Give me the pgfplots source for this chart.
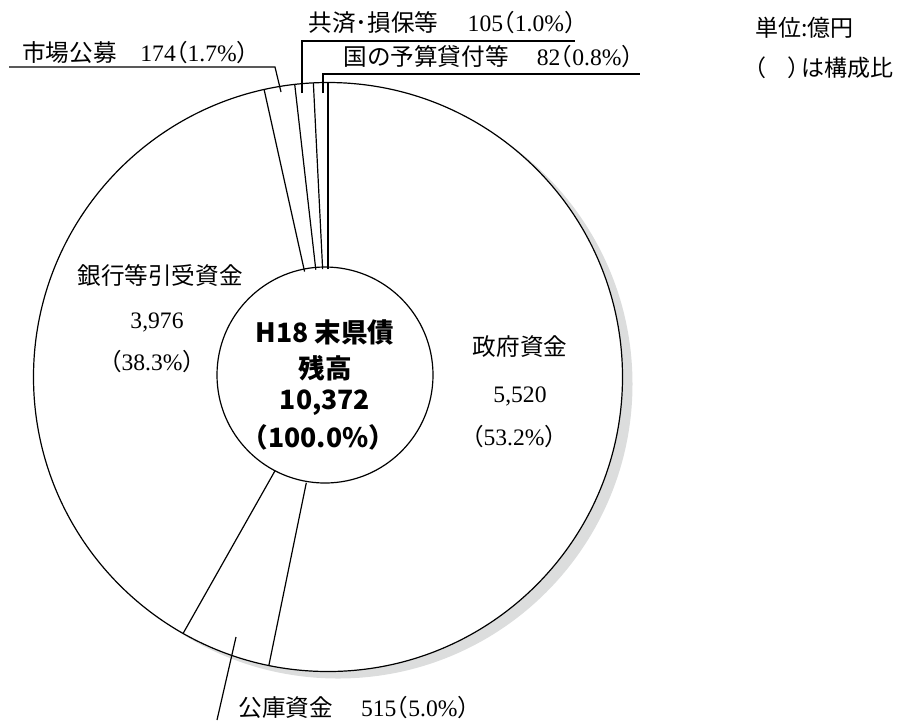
\documentclass[border=0pt]{standalone}
\usepackage{pgfplots}
\pgfplotsset{compat=1.18}
\usepackage{fontspec}
\setmainfont{Liberation Serif}
\newfontfamily\jp{Noto Sans CJK JP}
\newcommand{\J}[1]{{\jp #1}}
\newcommand{\lp}{{\jp\hspace{-0.5em}（}}
\newcommand{\rp}{{\jp ）\hspace{-0.5em}}}
\definecolor{shadowgray}{HTML}{DCDDDD}
\begin{document}
\begin{tikzpicture}
\useasboundingbox (0,0) rectangle (450pt,-360pt);
% donut: center at pixel (328,377); 1 px = 0.5pt
\begin{axis}[at={(4pt,-348.5pt)}, anchor=south west,
  x=0.5pt, y=0.5pt, xmin=-320, xmax=320, ymin=-320, ymax=320,
  hide axis, clip=false]
\fill[shadowgray] (axis cs:10,-7) circle[radius=294.5];
\draw[fill=white, line width=0.6pt] (axis cs:0,0) circle[radius=294.5];
\draw[fill=white, line width=0.6pt] (axis cs:-3,2) circle[radius=108];
% slice boundaries (polar angle, radius); values 5520, 515, 3976, 174, 105, 82 of 10372
\addplot[data cs=polar, black, line width=0.6pt] coordinates {(90,108) (90,294.5)};
\addplot[data cs=polar, black, line width=0.6pt] coordinates {(258.41,108) (258.41,294.5)};
\addplot[data cs=polar, black, line width=0.6pt] coordinates {(240.53,108) (240.53,294.5)};
\addplot[data cs=polar, black, line width=0.6pt] coordinates {(102.53,108) (102.53,294.5)};
\addplot[data cs=polar, black, line width=0.6pt] coordinates {(96.49,108) (96.49,294.5)};
\addplot[data cs=polar, black, line width=0.6pt] coordinates {(92.85,108) (92.85,294.5)};
\end{axis}
\begin{scope}[x=0.5pt,y=-0.5pt]
\fontsize{11.8pt}{14pt}\selectfont
% leader lines
\draw[line width=0.6pt] (9,67) -- (275,67) -- (281,92);
\draw[line width=0.6pt] (302,93) -- (302,41) -- (575,41);
\draw[line width=0.6pt] (323,93) -- (323,74) -- (640,74);
\draw[line width=0.6pt] (236,637) -- (217,720);
% small-slice labels
\node[anchor=west, inner sep=0pt] at (22,53) {\J{市場公募}\hspace{1em}174\lp1.7\%\rp};
\node[anchor=west, inner sep=0pt] at (308,23) {\J{共済･損保等}\hspace{1.25em}105\lp1.0\%\rp};
\node[anchor=west, inner sep=0pt] at (343,57) {\J{国の予算貸付等}\hspace{1.2em}82\lp0.8\%\rp};
\node[anchor=west, inner sep=0pt] at (238,708) {\J{公庫資金}\hspace{1.2em}515\lp5.0\%\rp};
% large-slice labels
\node[inner sep=0pt] at (160,275) {\J{銀行等引受資金}};
\node[inner sep=0pt] at (157,322) {3,976};
\node[inner sep=0pt] at (158,362) {\lp38.3\%\rp};
\node[inner sep=0pt] at (520,347) {\J{政府資金}};
\node[inner sep=0pt] at (520,396) {5,520};
\node[inner sep=0pt] at (520,437) {\lp53.2\%\rp};
% centre
\node[inner sep=0pt, font=\jp\bfseries\fontsize{13.3pt}{16pt}\selectfont] at (325,332) {H18 末県債};
\node[inner sep=0pt, font=\jp\bfseries\fontsize{13.3pt}{16pt}\selectfont] at (325,368) {残高};
\node[inner sep=0pt, font=\jp\bfseries\fontsize{13.3pt}{16pt}\selectfont] at (325,403) {10,372};
\node[inner sep=0pt, font=\jp\bfseries\fontsize{13.3pt}{16pt}\selectfont] at (325,437) {\hspace{-0.5em}（100.0\%）\hspace{-0.5em}};
% unit note
\node[anchor=west, inner sep=0pt, font=\jp\fontsize{11.5pt}{14pt}\selectfont] at (755,28) {単位:億円};
\node[anchor=west, inner sep=0pt, font=\jp\fontsize{11.5pt}{14pt}\selectfont] at (755,68) {\hspace{-0.5em}（\hspace{0.9em}）\hspace{-0.4em}は構成比};
\end{scope}
\end{tikzpicture}
\end{document}
